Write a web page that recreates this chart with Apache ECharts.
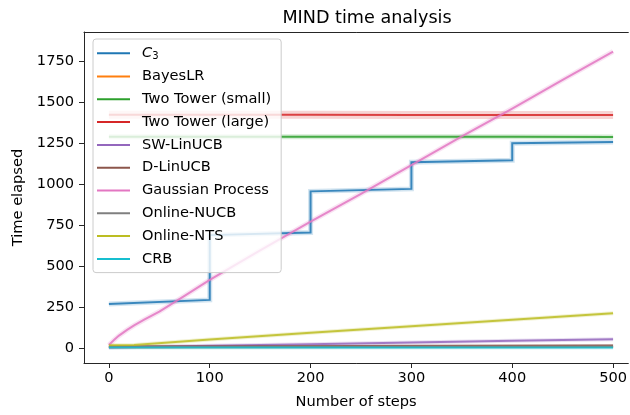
<!DOCTYPE html>
<html>
<head>
<meta charset="utf-8">
<script src="https://cdn.jsdelivr.net/npm/echarts@6/dist/echarts.min.js"></script>
<style>
  html, body { margin: 0; padding: 0; background: #fff; }
  #chart { width: 630px; height: 415px; }
</style>
</head>
<body>
<div id="chart"></div>
<script>
// Elapsed time per method over the number of steps (MIND dataset)
const xTicks = [0, 100, 200, 300, 400, 500];
const yTicks = [0, 250, 500, 750, 1000, 1250, 1500, 1750];

const c3Steps = [0, 100, 100, 200, 200, 300, 300, 400, 400, 500];
const c3Time = [268, 293, 688, 704, 955, 970, 1133, 1145, 1248, 1256];

const bayesSteps = [0, 250, 500];
const bayesTime = [4, 5, 6];

const ttSmallSteps = [0, 100, 200, 300, 400, 500];
const ttSmallTime = [1288, 1288, 1288, 1288, 1288, 1287];

const ttLargeSteps = [0, 100, 200, 300, 400, 500];
const ttLargeTime = [1423, 1422, 1422, 1421, 1421, 1421];

const swSteps = [0, 100, 200, 300, 400, 500];
const swTime = [3, 13, 23, 33, 43, 53];

const dlinSteps = [0, 250, 500];
const dlinTime = [9, 12, 14];

const gpSteps = [0, 5, 10, 18, 25, 35, 50, 75, 100, 150, 200, 250, 300, 350, 400, 450, 500];
const gpTime = [18, 48, 75, 110, 138, 172, 222, 318, 415, 595, 770, 940, 1115, 1290, 1460, 1635, 1808];

const nucbSteps = [0, 250, 500];
const nucbTime = [5, 6, 7];

const ntsSteps = [0, 25, 100, 200, 300, 400, 500];
const ntsTime = [17, 18, 52, 93, 132, 172, 211];

const crbSteps = [0, 250, 500];
const crbTime = [2, 2, 2];

const pairs = (xs, ys) => xs.map((x, i) => [x, ys[i]]);

const FONT = 'DejaVu Sans';
const INK = '#262626';

// visible x range: the axes run slightly past the right edge of the page
const X_MIN = -24.7;
const X_MAX = 515.1;

// name, data, colour, shaded band width (px, 0 = none)
const methods = [
  ['C3', pairs(c3Steps, c3Time), '#1f77b4', 5],
  ['BayesLR', pairs(bayesSteps, bayesTime), '#ff7f0e', 0],
  ['Two Tower (small)', pairs(ttSmallSteps, ttSmallTime), '#2ca02c', 5],
  ['Two Tower (large)', pairs(ttLargeSteps, ttLargeTime), '#d62728', 8],
  ['SW-LinUCB', pairs(swSteps, swTime), '#9467bd', 4],
  ['D-LinUCB', pairs(dlinSteps, dlinTime), '#8c564b', 3],
  ['Gaussian Process', pairs(gpSteps, gpTime), '#e377c2', 5],
  ['Online-NUCB', pairs(nucbSteps, nucbTime), '#7f7f7f', 3],
  ['Online-NTS', pairs(ntsSteps, ntsTime), '#bcbd22', 4],
  ['CRB', pairs(crbSteps, crbTime), '#17becf', 4]
];

const series = [];
// translucent bands first, so the mean lines sit on top
methods.forEach(([name, data, color, band]) => {
  if (!band) return;
  series.push({
    type: 'line',
    name: name + ' band',
    data: data,
    showSymbol: false,
    silent: true,
    lineStyle: { color: color, width: band, opacity: 0.2, cap: 'butt', join: 'miter' },
    itemStyle: { color: color },
    z: 1
  });
});
methods.forEach(([name, data, color]) => {
  series.push({
    type: 'line',
    name: name,
    data: data,
    showSymbol: false,
    lineStyle: { color: color, width: 2, opacity: 0.85, cap: 'butt', join: 'miter' },
    itemStyle: { color: color },
    z: 2
  });
});

const chart = echarts.init(document.getElementById('chart'), null, { renderer: 'canvas' });
chart.setOption({
  animation: false,
  backgroundColor: '#ffffff',
  textStyle: { fontFamily: FONT },
  title: {
    text: 'MIND time analysis',
    left: 362,
    textAlign: 'center',
    top: 4,
    textStyle: { fontFamily: FONT, fontSize: 17.6, fontWeight: 'normal', color: '#000' }
  },
  grid: {
    left: 84,
    top: 32,
    right: 0,
    bottom: 48,
    show: false
  },
  legend: {
    orient: 'vertical',
    left: 93,
    top: 39,
    selectedMode: false,
    data: methods.map(m => m[0]),
    icon: 'rect',
    itemWidth: 33,
    itemHeight: 2,
    itemGap: 6.8,
    padding: [5.7, 10, 5.7, 4],
    backgroundColor: 'rgba(255,255,255,0.8)',
    borderColor: '#cccccc',
    borderWidth: 1,
    borderRadius: 3,
    formatter: name => name === 'C3' ? '{it|C}{sub|3}' : name,
    textStyle: {
      fontFamily: FONT,
      fontSize: 14.6,
      lineHeight: 16,
      color: '#000',
      padding: [0, 0, 0, 7],
      rich: {
        it: { fontFamily: FONT, fontSize: 14.6, fontStyle: 'italic', color: '#000', lineHeight: 16 },
        sub: { fontFamily: FONT, fontSize: 10, color: '#000', padding: [7, 0, 0, 0], lineHeight: 16 }
      }
    }
  },
  xAxis: [
    {
      type: 'value',
      min: X_MIN,
      max: X_MAX,
      name: 'Number of steps',
      nameLocation: 'middle',
      nameGap: 32,
      nameTextStyle: { fontFamily: FONT, fontSize: 14.6, color: '#000' },
      axisLine: { show: true, onZero: false, lineStyle: { color: INK, width: 1 } },
      axisTick: { show: true, inside: false, length: 5, customValues: xTicks, lineStyle: { color: INK, width: 1 } },
      axisLabel: { customValues: xTicks, margin: 8, fontFamily: FONT, fontSize: 14.6, color: '#000', formatter: v => String(v) },
      splitLine: { show: false }
    },
    {
      // top spine of the frame
      type: 'value',
      position: 'top',
      min: X_MIN,
      max: X_MAX,
      axisLine: { show: true, onZero: false, lineStyle: { color: INK, width: 1 } },
      axisTick: { show: false },
      axisLabel: { show: false },
      splitLine: { show: false }
    }
  ],
  yAxis: {
    type: 'value',
    min: -92,
    max: 1927,
    name: 'Time elapsed',
    nameLocation: 'middle',
    nameGap: 48,
    nameRotate: 90,
    nameTextStyle: { fontFamily: FONT, fontSize: 14.6, color: '#000' },
    axisLine: { show: true, onZero: false, lineStyle: { color: INK, width: 1 } },
    axisTick: { show: true, inside: false, length: 5, customValues: yTicks, lineStyle: { color: INK, width: 1 } },
    axisLabel: { customValues: yTicks, margin: 10, fontFamily: FONT, fontSize: 14.6, color: '#000', formatter: v => String(v) },
    splitLine: { show: false }
  },
  series: series
});
</script>
</body>
</html>
